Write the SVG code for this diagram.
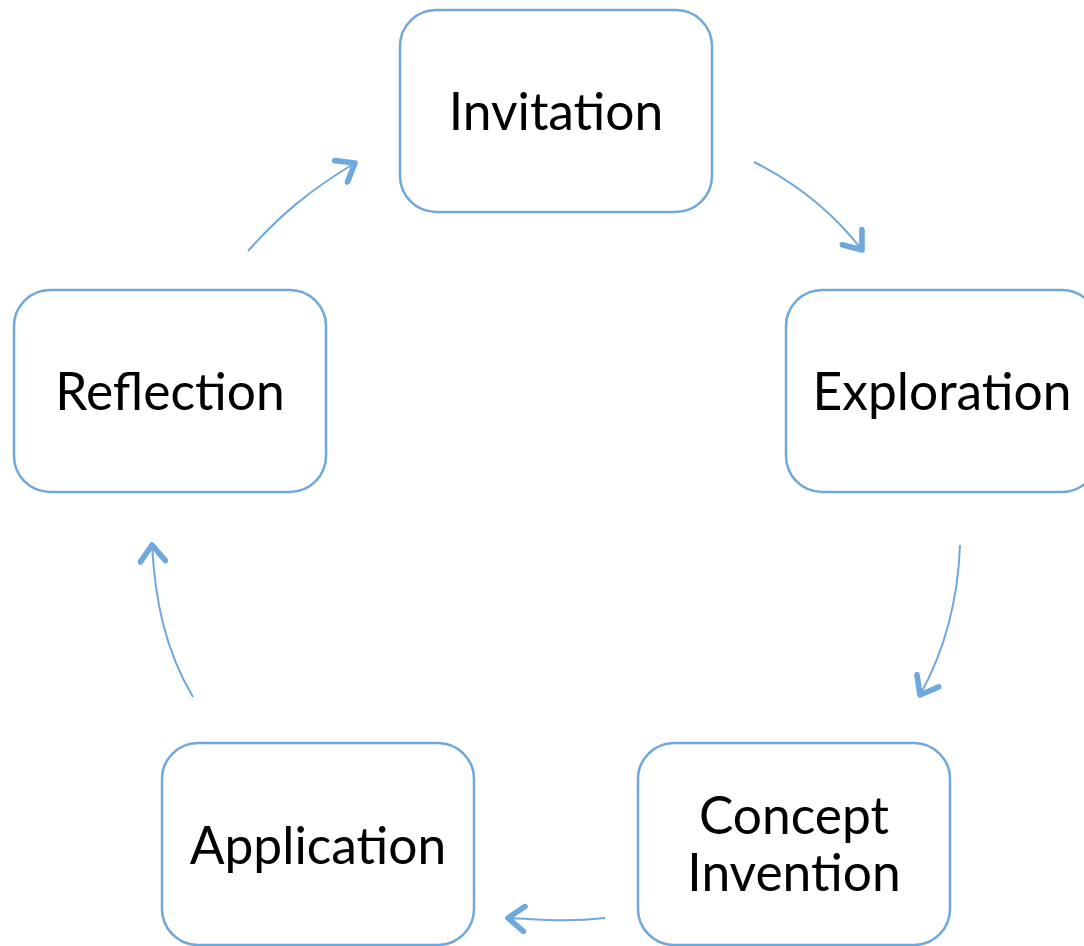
<svg xmlns="http://www.w3.org/2000/svg" width="1084" height="946" viewBox="0 0 1084 946">
<style>
.box{fill:#fff;stroke:#6fa8dc;stroke-width:2.5}
.lbl{font-family:Lato,"Open Sans",sans-serif;font-size:51.5px;fill:#000;text-anchor:middle}
.conn{fill:none;stroke:#6fa8dc;stroke-width:2;marker-end:url(#arr)}
</style>
<defs>
<marker id="arr" markerUnits="userSpaceOnUse" markerWidth="30" markerHeight="30" viewBox="-16 -12 20 24" refX="0" refY="0" orient="auto">
<path d="M-13,-10 L0,0 L-13,10" fill="none" stroke="#6fa8dc" stroke-width="4.5" stroke-linecap="round" stroke-linejoin="round"/>
</marker>
</defs>
<rect width="1084" height="946" fill="#fff"/>
<g id="connectors">
<path class="conn" d="M248,251 C280,215 310,190 355,163"/>
<path class="conn" d="M754,162 C800,185 835,215 862,250"/>
<path class="conn" d="M960,545 C958,600 945,650 920,695"/>
<path class="conn" d="M605,918 C570,922 540,920 508,918"/>
<path class="conn" d="M193,697 C165,650 155,600 152,545"/>
</g>
<g id="invitation"><rect class="box" x="400" y="10" width="312" height="202" rx="36"/><text class="lbl" x="556" y="130">Invitation</text></g>
<g id="exploration"><rect class="box" x="786" y="290" width="312" height="202" rx="36"/><text class="lbl" x="942" y="410">Exploration</text></g>
<g id="concept"><rect class="box" x="638" y="743" width="312" height="202" rx="36"/><text class="lbl" x="794" y="834">Concept</text><text class="lbl" x="794" y="891">Invention</text></g>
<g id="application"><rect class="box" x="162" y="743" width="312" height="202" rx="36"/><text class="lbl" x="318" y="864">Application</text></g>
<g id="reflection"><rect class="box" x="14" y="290" width="312" height="202" rx="36"/><text class="lbl" x="170" y="410">Reflection</text></g>
</svg>
